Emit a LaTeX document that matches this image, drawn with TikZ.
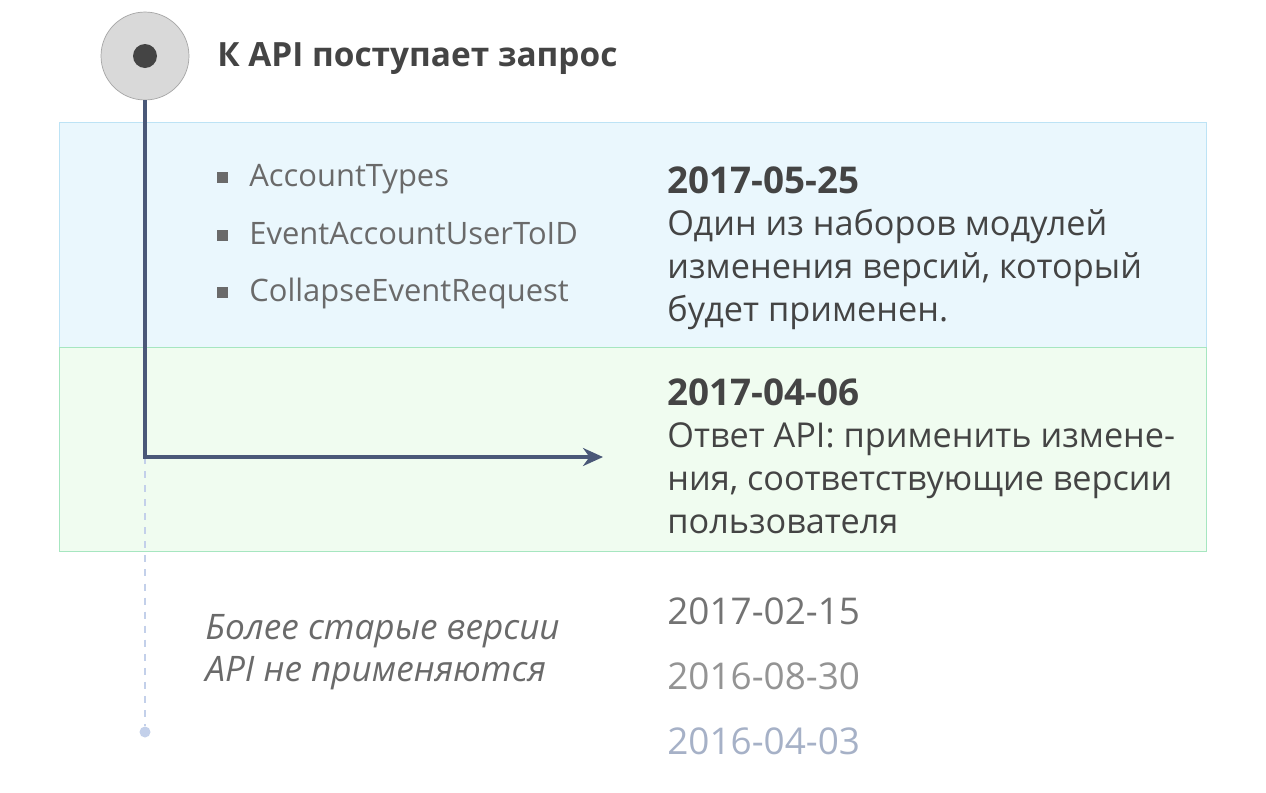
\documentclass[tikz,border=0pt]{standalone}
\usepackage{fontspec}
\setmainfont{Open Sans}
\usetikzlibrary{arrows.meta}
\definecolor{bandblue}{HTML}{EAF7FD}
\definecolor{bandblueline}{HTML}{BDE3F5}
\definecolor{bandgreen}{HTML}{F0FCF0}
\definecolor{bandgreenline}{HTML}{A6E6C0}
\definecolor{pathline}{HTML}{4A5878}
\definecolor{oldline}{HTML}{C3D0EA}
\definecolor{bodytext}{HTML}{444444}
\definecolor{softtext}{HTML}{6A6A6A}
\begin{document}
\begin{tikzpicture}[x=0.02cm,y=-0.02cm]
    \useasboundingbox[fill=white] (0,0) rectangle (1266,792);

    % bands
    \filldraw [fill=bandblue, draw=bandblueline] (59,122) rectangle (1206,347);
    \filldraw [fill=bandgreen, draw=bandgreenline] (59,347) rectangle (1206,551);

    % request
    \node (req) [circle, draw=black!35, fill=black!15, minimum size=1.76cm, inner sep=0] at (145,56) {};
    \node (reqdot) [circle, fill=bodytext, minimum size=0.48cm, inner sep=0] at (req.center) {};
    \node (title) [anchor=base west, inner sep=0, text=bodytext, font=\fontsize{19}{22}\selectfont\bfseries] at (217,66) {К API поступает запрос};

    % modules
    \node (modA) [anchor=base west, inner sep=0, text=softtext, font=\fontsize{17.6}{20}\selectfont] at (249,186) {AccountTypes};
    \node (modB) [anchor=base west, inner sep=0, text=softtext, font=\fontsize{17.6}{20}\selectfont] at (249,244) {EventAccountUserToID};
    \node (modC) [anchor=base west, inner sep=0, text=softtext, font=\fontsize{17.6}{20}\selectfont] at (249,301) {CollapseEventRequest};
    \node (dotA) [fill=softtext, minimum size=0.22cm, inner sep=0] at (222,177) {};
    \node (dotB) [fill=softtext, minimum size=0.22cm, inner sep=0] at (222,235) {};
    \node (dotC) [fill=softtext, minimum size=0.22cm, inner sep=0] at (222,292) {};

    % versions
    \node (verA) [anchor=north west, inner sep=0, align=left, text=bodytext, font=\fontsize{19.5}{24.3}\selectfont] at (667,166)
    {{\fontsize{21}{24.3}\selectfont\bfseries 2017-05-25}\\Один из наборов модулей\\изменения версий, который\\будет применен.};
    \node (verB) [anchor=north west, inner sep=0, align=left, text=bodytext, font=\fontsize{19.5}{24.3}\selectfont] at (667,378)
    {{\fontsize{21}{24.3}\selectfont\bfseries 2017-04-06}\\Ответ API: применить измене-\\ния, соответствующие версии\\пользователя};

    % old versions
    \node (oldnote) [anchor=north west, inner sep=0, align=left, text=softtext, font=\fontsize{20}{24}\selectfont\itshape] at (205,614)
    {Более старые версии\\API не применяются};
    \node (oldA) [anchor=base west, inner sep=0, text=black!55, font=\fontsize{21}{24}\selectfont] at (667,624) {2017-02-15};
    \node (oldB) [anchor=base west, inner sep=0, text=black!42, font=\fontsize{21}{24}\selectfont] at (667,689) {2016-08-30};
    \node (oldC) [anchor=base west, inner sep=0, text=oldline!85!black, font=\fontsize{21}{24}\selectfont] at (667,754) {2016-04-03};

    % path of the request
    \coordinate (turn) at (145,457);
    \coordinate (target) at (603,457);
    \node (oldend) [circle, fill=oldline, minimum size=0.22cm, inner sep=0] at (145,732) {};
    \draw [oldline, line width=1.6pt, dash pattern=on 4pt off 4pt] (turn) -- (oldend);
    \draw [pathline, line width=1.8pt, -{Stealth[length=0.4cm,width=0.36cm]}] (req.south) |- (target);
\end{tikzpicture}
\end{document}
